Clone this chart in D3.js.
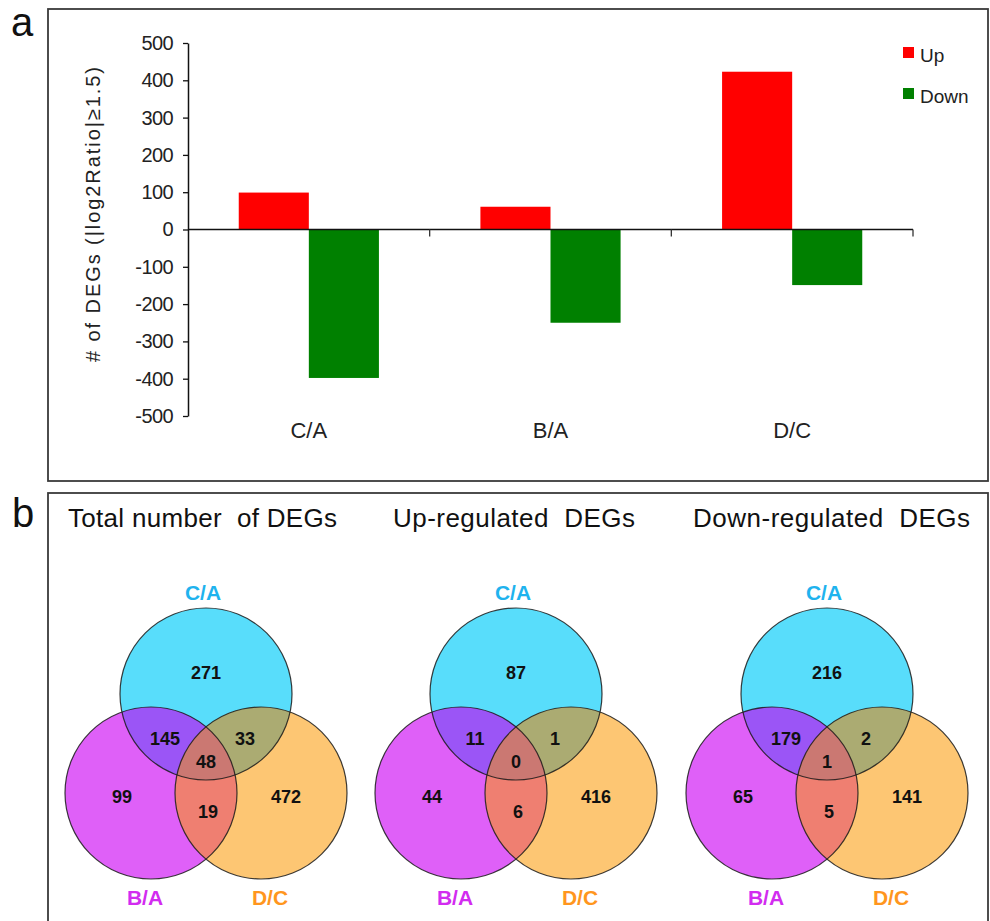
<!DOCTYPE html>
<html>
<head>
<meta charset="utf-8">
<script src="https://cdn.jsdelivr.net/npm/d3@7"></script>
<style>
  html, body { margin: 0; padding: 0; background: #fff; }
  svg { display: block; font-family: "Liberation Sans", Arial, sans-serif; }
</style>
</head>
<body>
<svg id="fig" width="990" height="921"></svg>
<script>
// ---- Panel a: DEG counts per comparison ----
const categories = ["C/A", "B/A", "D/C"];
const upCounts = [99, 61, 423];
const downCounts = [-398, -250, -149];
const yTickValues = [-500, -400, -300, -200, -100, 0, 100, 200, 300, 400, 500];
const seriesNames = ["Up", "Down"];
const seriesColors = ["#ff0000", "#008000"];

// ---- Panel b: Venn region counts ----
const setNames = ["C/A", "B/A", "D/C"];
const vennTitles = ["Total number  of DEGs", "Up-regulated  DEGs", "Down-regulated  DEGs"];
// order: C/A only, C/A∩B/A, C/A∩D/C, all three, B/A only, D/C only, B/A∩D/C
const vennTotal = [271, 145, 33, 48, 99, 472, 19];
const vennUp = [87, 11, 1, 0, 44, 416, 6];
const vennDown = [216, 179, 2, 1, 65, 141, 5];

const FONT = "'Liberation Sans', Arial, sans-serif";
const svg = d3.select("#fig");

// panel frames
svg.append("rect").attr("x", 48).attr("y", 9).attr("width", 940).attr("height", 472)
  .attr("fill", "none").attr("stroke", "#3a3a3a").attr("stroke-width", 1.8);
svg.append("rect").attr("x", 48).attr("y", 493).attr("width", 940).attr("height", 440)
  .attr("fill", "none").attr("stroke", "#3a3a3a").attr("stroke-width", 1.8);

svg.append("text").attr("x", 11).attr("y", 36).attr("font-size", 40).attr("fill", "#111").text("a");
svg.append("text").attr("x", 12).attr("y", 527).attr("font-size", 40).attr("fill", "#111").text("b");

// ---------- bar chart ----------
const x = d3.scaleBand().domain(categories).range([188, 913]).paddingInner(0).paddingOuter(0);
const xSub = d3.scaleBand().domain(seriesNames).range([0, x.bandwidth()])
  .paddingInner(0).paddingOuter(0.724);
const y = d3.scaleLinear().domain([-500, 500]).range([416, 43]);

const rows = categories.map((c, i) => ({ cat: c, values: [upCounts[i], downCounts[i]] }));

const barG = svg.append("g");
barG.selectAll("g.cat").data(rows).join("g")
  .attr("class", "cat")
  .attr("transform", d => `translate(${x(d.cat)},0)`)
  .selectAll("rect")
  .data(d => d.values.map((v, k) => ({ series: seriesNames[k], v, k })))
  .join("rect")
  .attr("x", d => xSub(d.series))
  .attr("width", xSub.bandwidth())
  .attr("y", d => y(Math.max(0, d.v)))
  .attr("height", d => Math.abs(y(d.v) - y(0)))
  .attr("fill", d => seriesColors[d.k]);

// y axis
const yAxis = d3.axisLeft(y).tickValues(yTickValues).tickSize(5).tickSizeOuter(0)
  .tickPadding(10).tickFormat(d => String(d));
const yG = svg.append("g").attr("transform", "translate(188,0)").call(yAxis);
yG.select(".domain").attr("stroke", "#111").attr("stroke-width", 1.5);
yG.selectAll(".tick line").attr("stroke", "#111").attr("stroke-width", 1.3);
yG.selectAll(".tick text").attr("font-size", 20).attr("letter-spacing", "-0.6px")
  .attr("fill", "#222").attr("font-family", FONT);

// category axis along zero
const x0 = y(0);
svg.append("line").attr("x1", 188).attr("x2", x.range()[1]).attr("y1", x0).attr("y2", x0)
  .attr("stroke", "#111").attr("stroke-width", 1.5);
const catBounds = categories.slice(1).map(c => x(c)).concat([x.range()[1]]);
svg.selectAll("line.cattick").data(catBounds).join("line")
  .attr("class", "cattick")
  .attr("x1", d => d).attr("x2", d => d).attr("y1", x0).attr("y2", x0 + 7)
  .attr("stroke", "#333").attr("stroke-width", 1.3);
svg.selectAll("text.catlab").data(categories).join("text")
  .attr("class", "catlab")
  .attr("x", d => x(d) + x.bandwidth() / 2).attr("y", 438)
  .attr("text-anchor", "middle").attr("font-size", 22).attr("fill", "#222")
  .text(d => d);

// y axis title
svg.append("text")
  .attr("transform", "translate(100,214.5) rotate(-90)")
  .attr("text-anchor", "middle").attr("font-size", 20).attr("fill", "#222")
  .attr("textLength", 295).attr("lengthAdjust", "spacing")
  .text("# of DEGs (|log2Ratio|\u22651.5)");

// legend
const legend = svg.append("g");
seriesNames.forEach((s, i) => {
  const ly = [47, 88][i];
  legend.append("rect").attr("x", 903).attr("y", ly).attr("width", 11).attr("height", 11)
    .attr("fill", seriesColors[i]);
  legend.append("text").attr("x", 920).attr("y", ly + 15).attr("font-size", 19)
    .attr("fill", "#222").text(s);
});

// ---------- Venn diagrams ----------
const regionFill = ["#58ddfb", "#9b55f6", "#abab72", "#cb7872", "#df60f8", "#fdc673", "#ef7f71"];
const setColors = ["#1fb3ee", "#d22cf0", "#ff961e"];
const R = 86;
const panelCenters = [206, 516, 827];
const titleSpans = [[68, 269], [393, 242], [693, 277]];
const vennData = [vennTotal, vennUp, vennDown];
// circle centres relative to the panel centre
const circleOffsets = [[0, 694], [-55, 793], [55, 793]];
// label anchors relative to the panel centre, in region order
const labelOffsets = [[0, 673], [-41, 739], [39, 739], [0, 762], [-84, 797], [80, 797], [2, 812]];

const defs = svg.append("defs");

vennData.forEach((counts, p) => {
  const cx = panelCenters[p];
  const g = svg.append("g");
  const circles = circleOffsets.map(o => ({ x: cx + o[0], y: o[1] }));

  circles.forEach((c, k) => {
    defs.append("clipPath").attr("id", `clip-${p}-${k}`)
      .append("circle").attr("cx", c.x).attr("cy", c.y).attr("r", R);
  });

  const disk = (sel, k, fill) => sel.append("circle")
    .attr("cx", circles[k].x).attr("cy", circles[k].y).attr("r", R).attr("fill", fill);

  // single-set areas
  disk(g, 0, regionFill[0]);
  disk(g, 1, regionFill[4]);
  disk(g, 2, regionFill[5]);
  // pairwise overlaps
  disk(g.append("g").attr("clip-path", `url(#clip-${p}-0)`), 1, regionFill[1]);
  disk(g.append("g").attr("clip-path", `url(#clip-${p}-0)`), 2, regionFill[2]);
  disk(g.append("g").attr("clip-path", `url(#clip-${p}-1)`), 2, regionFill[6]);
  // triple overlap
  disk(g.append("g").attr("clip-path", `url(#clip-${p}-0)`)
        .append("g").attr("clip-path", `url(#clip-${p}-1)`), 2, regionFill[3]);

  // outlines
  g.selectAll("circle.outline").data(circles).join("circle")
    .attr("class", "outline")
    .attr("cx", d => d.x).attr("cy", d => d.y).attr("r", R)
    .attr("fill", "none").attr("stroke", "#1a1a1a").attr("stroke-opacity", 0.85)
    .attr("stroke-width", 1.2);

  // region counts
  g.selectAll("text.count").data(counts).join("text")
    .attr("class", "count")
    .attr("x", (d, i) => cx + labelOffsets[i][0])
    .attr("y", (d, i) => labelOffsets[i][1])
    .attr("dy", "0.36em")
    .attr("text-anchor", "middle").attr("font-size", 18).attr("font-weight", "bold")
    .attr("fill", "#111").text(d => d);

  // set names
  const namePos = [[-3, 600], [-61, 905], [64, 905]];
  g.selectAll("text.setname").data(setNames).join("text")
    .attr("class", "setname")
    .attr("x", (d, i) => cx + namePos[i][0]).attr("y", (d, i) => namePos[i][1])
    .attr("text-anchor", "middle").attr("font-size", 21).attr("font-weight", "bold")
    .attr("fill", (d, i) => setColors[i]).text(d => d);

  // panel title
  svg.append("text").attr("x", titleSpans[p][0]).attr("y", 527)
    .attr("font-size", 26).attr("fill", "#111")
    .attr("textLength", titleSpans[p][1]).attr("lengthAdjust", "spacing")
    .attr("xml:space", "preserve").style("white-space", "pre")
    .text(vennTitles[p]);
});
</script>
</body>
</html>
